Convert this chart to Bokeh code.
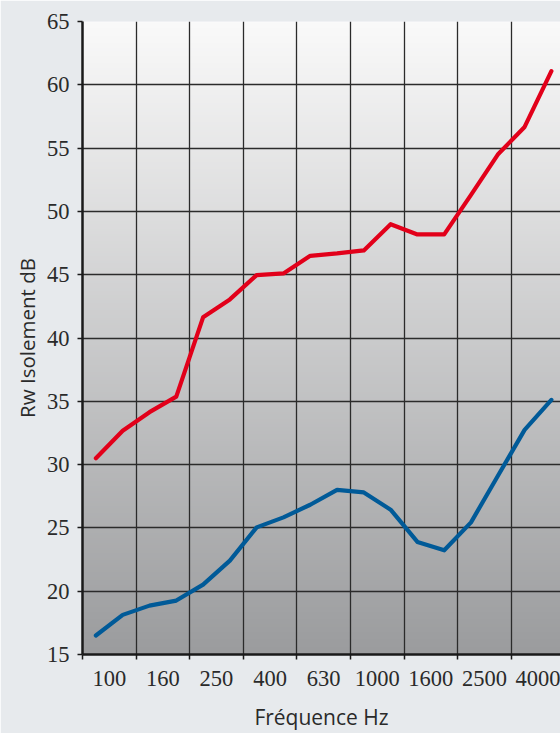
import numpy as np
from bokeh.plotting import figure
from bokeh.models import FixedTicker, Range1d
from bokeh.embed import file_html
from bokeh.resources import INLINE

freq_labels = ["100", "160", "250", "400", "630", "1000", "1600", "2500", "4000"]
# third-octave bands 100 ... 5000 Hz
bands = ["100", "125", "160", "200", "250", "315", "400", "500", "630", "800",
         "1000", "1250", "1600", "2000", "2500", "3150", "4000", "5000"]
red_values = [30.5, 32.67, 34.14, 35.37, 41.63, 43.05, 44.97, 45.1, 46.49, 46.68,
              46.92, 48.99, 48.18, 48.18, 51.3, 54.49, 56.67, 61.08]
blue_values = [16.5, 18.13, 18.86, 19.26, 20.52, 22.41, 25.04, 25.83, 26.83, 28.01,
               27.8, 26.44, 23.89, 23.23, 25.44, 29.1, 32.74, 35.11]
y_ticks = [15, 20, 25, 30, 35, 40, 45, 50, 55, 60, 65]

# band positions: two bands per labelled cell
xpos = [0.25 + 0.5 * i for i in range(len(bands))]
label_pos = [0.5 + i for i in range(len(freq_labels))]
cell_edges = list(range(0, len(freq_labels) + 1))

W, H = 560, 733
XMAX = 8.92
p = figure(width=W, height=H, output_backend="svg", toolbar_location=None,
           x_range=Range1d(0, XMAX), y_range=Range1d(15, 65),
           min_border_left=82, min_border_right=0, min_border_top=21,
           min_border_bottom=78)
p.background_fill_color = "#e7eaed"
p.border_fill_color = "#e7eaed"
p.outline_line_color = None

# vertical gradient background in the plot area
n = 256
t = np.linspace(0, 1, n)  # 0 bottom -> 1 top
top = np.array([250, 250, 250])
bot = np.array([155, 156, 158])
cols = (bot[None, :] * (1 - t[:, None]) + top[None, :] * t[:, None]).astype(np.uint32)
img = np.empty((n, 1), dtype=np.uint32)
view = img.view(dtype=np.uint8).reshape((n, 1, 4))
view[:, 0, 0] = cols[:, 0]
view[:, 0, 1] = cols[:, 1]
view[:, 0, 2] = cols[:, 2]
view[:, 0, 3] = 255
p.image_rgba(image=[img], x=0, y=15, dw=XMAX, dh=50, level="image")

# grid
p.xgrid.ticker = FixedTicker(ticks=cell_edges[1:])
p.ygrid.ticker = FixedTicker(ticks=y_ticks)
for g in (p.xgrid, p.ygrid):
    g.grid_line_color = "#2b2b2b"
    g.grid_line_width = 1.3
    g.level = "underlay"

# lines
p.line(xpos, red_values, line_color="#e2001a", line_width=4.2, line_join="round", line_cap="round")
p.line(xpos, blue_values, line_color="#005a98", line_width=4.2, line_join="round", line_cap="round")

# x axis
xa = p.xaxis[0]
xa.ticker = FixedTicker(ticks=label_pos, minor_ticks=cell_edges)
xa.major_label_overrides = {lp: lab for lp, lab in zip(label_pos, freq_labels)}
xa.major_tick_out = 0
xa.major_tick_in = 0
xa.minor_tick_out = 5
xa.minor_tick_in = 0
xa.minor_tick_line_color = "#1a1a1a"
xa.minor_tick_line_width = 1.5
xa.axis_line_color = "#1a1a1a"
xa.axis_line_width = 2.5
xa.major_label_text_font = "Liberation Sans Narrow"
xa.major_label_text_font_size = "22.5px"
xa.major_label_text_color = "#2a2a2a"
xa.major_label_standoff = 11
xa.axis_label = "Fréquence Hz"
xa.axis_label_text_font = "Open Sans"
xa.axis_label_text_font_style = "normal"
xa.axis_label_text_font_size = "21px"
xa.axis_label_text_color = "#2a2a2a"
xa.axis_label_standoff = 14

# y axis
ya = p.yaxis[0]
ya.ticker = FixedTicker(ticks=y_ticks)
ya.major_tick_out = 5
ya.major_tick_in = 0
ya.minor_tick_out = 0
ya.major_tick_line_color = "#1a1a1a"
ya.major_tick_line_width = 1.5
ya.axis_line_color = "#1a1a1a"
ya.axis_line_width = 2.5
ya.major_label_text_font = "Liberation Sans Narrow"
ya.major_label_text_font_size = "22.5px"
ya.major_label_text_color = "#2a2a2a"
ya.major_label_standoff = 8
ya.axis_label = "Rw Isolement dB"
ya.axis_label_text_font = "Open Sans"
ya.axis_label_text_font_style = "normal"
ya.axis_label_text_font_size = "20.5px"
ya.axis_label_text_color = "#2a2a2a"
ya.axis_label_standoff = 3

open("out.html", "w").write(file_html(p, INLINE))
